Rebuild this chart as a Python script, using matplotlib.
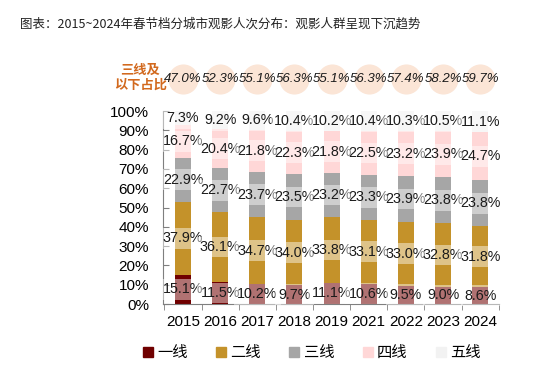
"""春节档分城市观影人次分布 stacked bar chart."""

import matplotlib

matplotlib.use("Agg")
import matplotlib.pyplot as plt
from matplotlib.lines import Line2D
from matplotlib.ticker import PercentFormatter

plt.rcParams["font.family"] = ["Liberation Sans", "Noto Sans CJK SC"]

years = ["2015", "2016", "2017", "2018", "2019", "2021", "2022", "2023", "2024"]
tier_names = ["一线", "二线", "三线", "四线", "五线"]
tier1 = [15.1, 11.5, 10.2, 9.7, 11.1, 10.6, 9.5, 9.0, 8.6]
tier2 = [37.9, 36.1, 34.7, 34.0, 33.8, 33.1, 33.0, 32.8, 31.8]
tier3 = [22.9, 22.7, 23.7, 23.5, 23.2, 23.3, 23.9, 23.8, 23.8]
tier4 = [16.7, 20.4, 21.8, 22.3, 21.8, 22.5, 23.2, 23.9, 24.7]
tier5 = [7.3, 9.2, 9.6, 10.4, 10.2, 10.4, 10.3, 10.5, 11.1]
lower_share = [47.0, 52.3, 55.1, 56.3, 55.1, 56.3, 57.4, 58.2, 59.7]

colors = ["#700000", "#C4922A", "#A6A6A6", "#FFD7D7", "#F2F2F2"]

fig = plt.figure(figsize=(5.54, 3.74), dpi=100)
ax = fig.add_axes([0.294, 0.187, 0.607, 0.516])

x = list(range(len(years)))
bottom = [0.0] * len(years)
for name, values, color in zip(tier_names, [tier1, tier2, tier3, tier4, tier5], colors):
    ax.bar(x, values, bottom=bottom, width=0.43, color=color, label=name, zorder=2)
    for i, v in enumerate(values):
        ax.text(
            i, bottom[i] + v / 2, f"{v:.1f}%", ha="center", va="center",
            fontsize=10.3, color="#1a1a1a", zorder=3,
            bbox=dict(facecolor="white", alpha=0.45, edgecolor="none", pad=2.5),
        )
    bottom = [b + v for b, v in zip(bottom, values)]

ax.set_xlim(-0.54, 8.51)
ax.set_ylim(0, 100)
ax.set_yticks(range(0, 101, 10))
ax.yaxis.set_major_formatter(PercentFormatter(decimals=0))
ax.set_xticks(x)
ax.set_xticklabels(years)
ax.set_xticks([i - 0.5 for i in range(len(years) + 1)], minor=True)
ax.tick_params(axis="x", which="major", length=0, labelsize=11, pad=8)
ax.tick_params(axis="x", which="minor", length=4, direction="out", color="#7f7f7f")
ax.tick_params(axis="y", length=4, direction="in", labelsize=11, pad=10, color="#7f7f7f")
for side in ["top", "right"]:
    ax.spines[side].set_visible(False)
for side in ["left", "bottom"]:
    ax.spines[side].set_color("#7f7f7f")
    ax.spines[side].set_linewidth(0.8)

# share of tier-3-and-below cities, drawn above the bars
trans = ax.get_xaxis_transform()
ax.scatter(x, [1.165] * len(x), s=470, color="#FBE5D6", transform=trans,
           clip_on=False, zorder=1, linewidths=0)
for i, v in enumerate(lower_share):
    ax.text(i, 1.165, f"{v:.1f}%", transform=trans, ha="center", va="center",
            fontsize=9.5, style="italic", color="#1a1a1a", zorder=3)
fig.text(0.253, 0.79, "三线及\n以下占比", ha="center", va="center", fontsize=9.5,
         style="italic", fontweight="bold", color="#D2691E", linespacing=1.25)

fig.text(0.036, 1 - 24 / 374, "图表：2015~2024年春节档分城市观影人次分布：观影人群呈现下沉趋势",
         fontsize=9, ha="left", va="center", color="#222222",
         family=["Noto Sans CJK SC", "DejaVu Sans"])

handles = [Line2D([], [], marker="s", linestyle="none", markersize=7,
                  markerfacecolor=c, markeredgecolor=c) for c in colors]
fig.legend(handles, tier_names, loc="center", bbox_to_anchor=(312 / 554, 0.056),
           ncol=5, frameon=False, fontsize=11, handlelength=0.6,
           handletextpad=0.3, columnspacing=1.9)

fig.savefig("out.png", dpi=100)
